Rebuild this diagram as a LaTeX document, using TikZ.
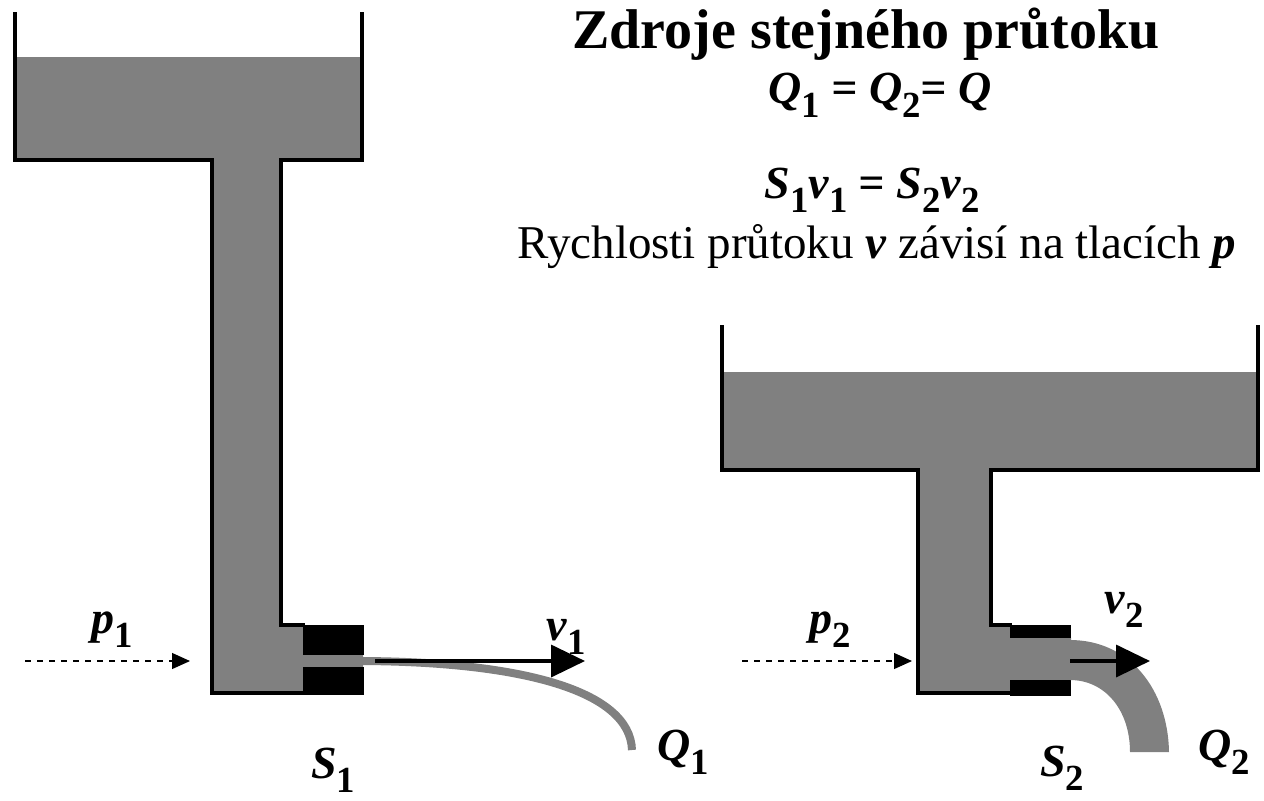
\documentclass[tikz,border=0pt]{standalone}
\usepackage{fontspec}
\setmainfont{Liberation Serif}
\usetikzlibrary{arrows.meta}
\newcommand{\Vsub}[2]{{\bfseries\itshape #1}\raisebox{-0.3em}{\bfseries\upshape\fontsize{0.8em}{1em}\selectfont #2}}
\begin{document}
\begin{tikzpicture}[x=0.5pt,y=-0.5pt,
  wall/.style={line width=2.2pt,line join=miter},
  lbl/.style={font=\fontsize{23}{26}\selectfont\bfseries\itshape,inner sep=0pt},
  flow/.style={-{Triangle[length=17pt,width=16pt]},line width=1.8pt},
  press/.style={dashed,-{Triangle[length=9pt,width=8pt]},line width=0.6pt}]
\definecolor{fluid}{RGB}{128,128,128}
\useasboundingbox (0,0) rectangle (1264,800);
% ---------- left vessel
\fill[fluid] (15,57) -- (362,57) -- (362,160) -- (281,160) -- (281,625) -- (303,625) -- (303,655) -- (363,655) -- (363,667) -- (303,667) -- (303,693) -- (212,693) -- (212,160) -- (15,160) -- cycle;
\fill[black] (303,625) rectangle (364,655);
\fill[black] (303,667) rectangle (364,695);
\draw[wall] (15,12) -- (15,160) -- (212,160) -- (212,693) -- (305,693);
\draw[wall] (362,12) -- (362,160) -- (281,160) -- (281,625) -- (305,625);
\draw[fluid,line width=4pt] (363,661) .. controls (520,662) and (630,690) .. (632,750);
\coordinate (jl0) at (375,661);
\coordinate (jl1) at (585,661);
\draw[flow] (jl0) -- (jl1);
\coordinate (pl0) at (25,661);
\coordinate (pl1) at (190,661);
\draw[press] (pl0) -- (pl1);
\node[lbl] (p1) at (112,630) {\Vsub{p}{1}};
\node[lbl] (v1) at (566,637) {\Vsub{v}{1}};
\node[lbl] (s1) at (333,770) {\Vsub{S}{1}};
\node[lbl] (q1) at (683,752) {\Vsub{Q}{1}};
% ---------- right vessel
\fill[fluid] (722,372) -- (1258,372) -- (1258,470) -- (991,470) -- (991,625) -- (1010,625) -- (1010,638) -- (1071,638) -- (1071,680) -- (1010,680) -- (1010,693) -- (918,693) -- (918,470) -- (722,470) -- cycle;
\fill[black] (1010,625) rectangle (1071,638);
\fill[black] (1010,680) rectangle (1071,696);
\draw[wall] (722,325) -- (722,470) -- (918,470) -- (918,693) -- (1012,693);
\draw[wall] (1258,325) -- (1258,470) -- (991,470) -- (991,625) -- (1012,625);
\fill[fluid] (1070,640) .. controls (1130,640) and (1168,690) .. (1169,752) -- (1130,752) .. controls (1130,710) and (1105,680) .. (1070,680) -- cycle;
\coordinate (jr0) at (1070,661);
\coordinate (jr1) at (1150,661);
\draw[flow] (jr0) -- (jr1);
\coordinate (pr0) at (742,661);
\coordinate (pr1) at (912,661);
\draw[press] (pr0) -- (pr1);
\node[lbl] (p2) at (830,630) {\Vsub{p}{2}};
\node[lbl] (v2) at (1124,610) {\Vsub{v}{2}};
\node[lbl] (s2) at (1062,768) {\Vsub{S}{2}};
\node[lbl] (q2) at (1224,752) {\Vsub{Q}{2}};
% ---------- texts
\node[font=\fontsize{28}{32}\selectfont\bfseries] (t1) at (866,34) {Zdroje stejného průtoku};
\node[lbl] (t2) at (880,95) {\Vsub{Q}{1} = \Vsub{Q}{2}= \Vsub{Q}{}};
\node[lbl] (t3) at (872,190) {\Vsub{S}{1}\Vsub{v}{1} = \Vsub{S}{2}\Vsub{v}{2}};
\node[font=\fontsize{23.5}{26}\selectfont] (t4) at (877,247) {Rychlosti průtoku {\bfseries\itshape v} závisí na tlacích {\bfseries\itshape p}};
\end{tikzpicture}
\end{document}
